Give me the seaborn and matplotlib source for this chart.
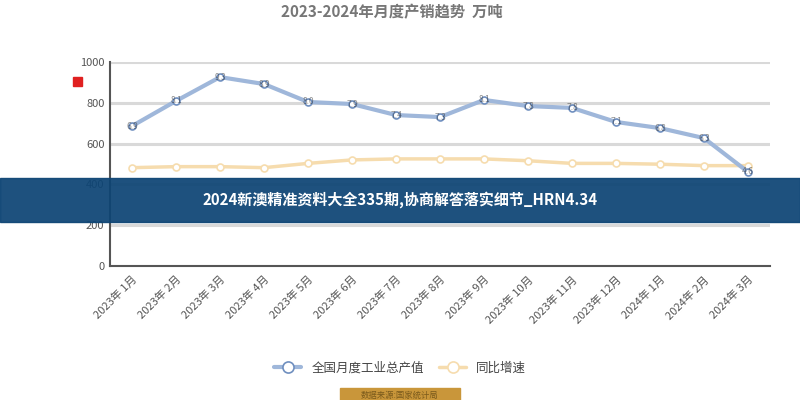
import numpy as np
import pandas as pd
import seaborn as sns
import matplotlib.pyplot as plt
from matplotlib.patches import Rectangle

# Chart data
months = ["2023年 1月", "2023年 2月", "2023年 3月", "2023年 4月", "2023年 5月",
          "2023年 6月", "2023年 7月", "2023年 8月", "2023年 9月", "2023年 10月",
          "2023年 11月", "2023年 12月", "2024年 1月", "2024年 2月", "2024年 3月"]
output_values = [686, 809, 926, 892, 804, 794, 740, 730, 814, 784, 775, 706, 676, 627, 461]
growth_values = [482, 487, 487, 482, 503, 520, 525, 525, 525, 516, 503, 503, 499, 492, 492]
y_ticks = [0, 200, 400, 600, 800, 1000]

series_names = ["全国月度工业总产值", "同比增速"]
title_text = "2023-2024年月度产销趋势  万吨"
banner_text = "2024新澳精准资料大全335期,协商解答落实细节_HRN4.34"

sns.set_theme(style="white")
plt.rcParams["font.family"] = ["Noto Sans CJK SC", "DejaVu Sans"]

df = pd.DataFrame({
    "idx": np.arange(len(months)),
    series_names[0]: output_values,
    series_names[1]: growth_values,
})

fig = plt.figure(figsize=(8, 4), dpi=100)
ax = fig.add_axes([0.1375, 0.335, 0.825, 0.51])

for y in y_ticks[1:]:
    ax.axhline(y, color="#d9d9d9", lw=2.2, zorder=0)

sns.lineplot(data=df, x="idx", y=series_names[1], ax=ax, color="#f6dcae", lw=2.5,
             marker="o", markersize=5, markerfacecolor="white",
             markeredgecolor="#f6dcae", markeredgewidth=1.2, label=series_names[1], zorder=3)
sns.lineplot(data=df, x="idx", y=series_names[0], ax=ax, color="#9fb7da", lw=3,
             marker="o", markersize=5, markerfacecolor="white",
             markeredgecolor="#6f8fbf", markeredgewidth=1.2, label=series_names[0], zorder=4)

for i, v in enumerate(output_values):
    ax.text(i, v, f"{v / 100:.1f}", fontsize=6, color="#333333", alpha=0.55,
            ha="center", va="center", zorder=5)

ax.set_xlim(-0.5, len(months) - 0.5)
ax.set_ylim(0, 1000)
ax.set_yticks(y_ticks)
ax.set_yticklabels([str(t) for t in y_ticks], fontsize=8, color="#555555")
ax.set_xticks(np.arange(len(months) + 1) - 0.5, minor=False)
ax.set_xticklabels([])
ax.set_xticks(np.arange(len(months)), minor=True)
ax.set_xticklabels(months, minor=True, rotation=45, ha="right", rotation_mode="anchor",
                   fontsize=8, color="#555555")
ax.tick_params(axis="x", which="major", length=5, width=1.5, color="#555555", direction="out")
ax.tick_params(axis="x", which="minor", length=0, pad=6)
ax.tick_params(axis="y", length=0, pad=4)
ax.set_xlabel("")
ax.set_ylabel("")

for side in ["top", "right"]:
    ax.spines[side].set_visible(False)
ax.spines["left"].set_color("#555555")
ax.spines["left"].set_linewidth(1.5)
ax.spines["bottom"].set_color("#555555")
ax.spines["bottom"].set_linewidth(1.5)

handles, labels = ax.get_legend_handles_labels()
ax.get_legend().remove()
fig.legend(handles[::-1], labels[::-1], loc="center", bbox_to_anchor=(0.5, 0.08),
           ncol=2, frameon=False, fontsize=9, labelcolor="#444444",
           handlelength=2.2, columnspacing=1.2, markerscale=1.6)

fig.text(0.49, 0.97, title_text, ha="center", va="center", fontsize=11,
         fontweight="bold", color="#777777")

# small red marker at the top left of the y axis
fig.patches.append(Rectangle((0.091, 0.785), 0.011, 0.022, transform=fig.transFigure,
                             color="#e02020", zorder=5))

# gold tag under the legend
fig.patches.append(Rectangle((0.425, -0.01), 0.15, 0.04, transform=fig.transFigure,
                             color="#c9963a", zorder=5))
fig.text(0.5, 0.012, "数据来源:国家统计局", ha="center", va="center", fontsize=6,
         color="#7a5a1c", zorder=6)

# translucent banner across the middle
fig.patches.append(Rectangle((0, 0.445), 1, 0.11, transform=fig.transFigure,
                             color="#0d4474", alpha=0.93, zorder=10))
fig.text(0.5, 0.5, banner_text, ha="center", va="center", fontsize=10.8,
         fontweight="bold", color="white", zorder=11)

fig.savefig("out.png", dpi=100)
